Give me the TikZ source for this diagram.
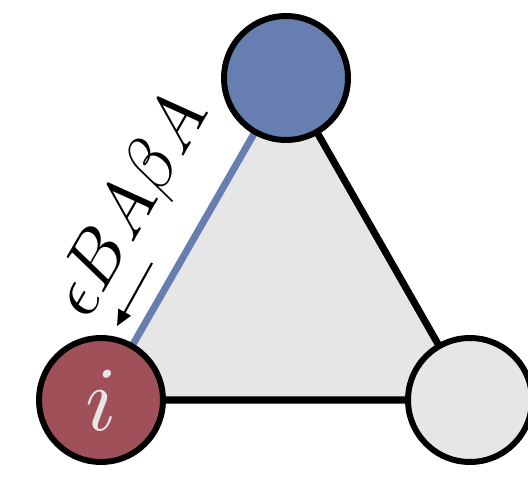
\documentclass[tikz,border=0pt]{standalone}
\usepackage{amsmath}
\usepackage{tikz}
\usetikzlibrary{arrows.meta}
\definecolor{siteblue}{RGB}{102,127,176}
\definecolor{sitered}{RGB}{160,80,88}
\definecolor{sitegray}{RGB}{230,230,230}

\begin{document}
\begin{tikzpicture}[x=0.02cm, y=-0.02cm, >={Triangle[length=9pt,width=8pt]}]
  \tikzstyle{site}=[circle, draw, line width=3.4pt, minimum size=2.48cm, inner sep=0pt]
  \tikzstyle{bond}=[line width=4pt]
  \useasboundingbox (0,0) rectangle (528,500);
  \coordinate (ci) at (101,400);
  \coordinate (ct) at (286,78);
  \coordinate (cr) at (470,400);
  \fill[sitegray] (ci) -- (ct) -- (cr) -- cycle;
  \draw[bond, siteblue] (ci) -- (ct);
  \draw[bond] (ct) -- (cr) -- (ci);
  \node[site, fill=siteblue] (top) at (ct) {};
  \node[site, fill=sitered] (i) at (ci) {};
  \node[text=sitegray, scale=5.2] (ilab) at (ci) {$i$};
  \node[site, fill=sitegray] (right) at (cr) {};
  % hopping label
  \node[rotate=60, scale=4.15, inner sep=0pt] (lab) at (133,207) {$\epsilon BA\beta A$};
  \coordinate (a0) at (152,263);
  \coordinate (a1) at (117,326);
  \draw[->, line width=1.2pt] (a0) -- (a1);
\end{tikzpicture}
\end{document}
